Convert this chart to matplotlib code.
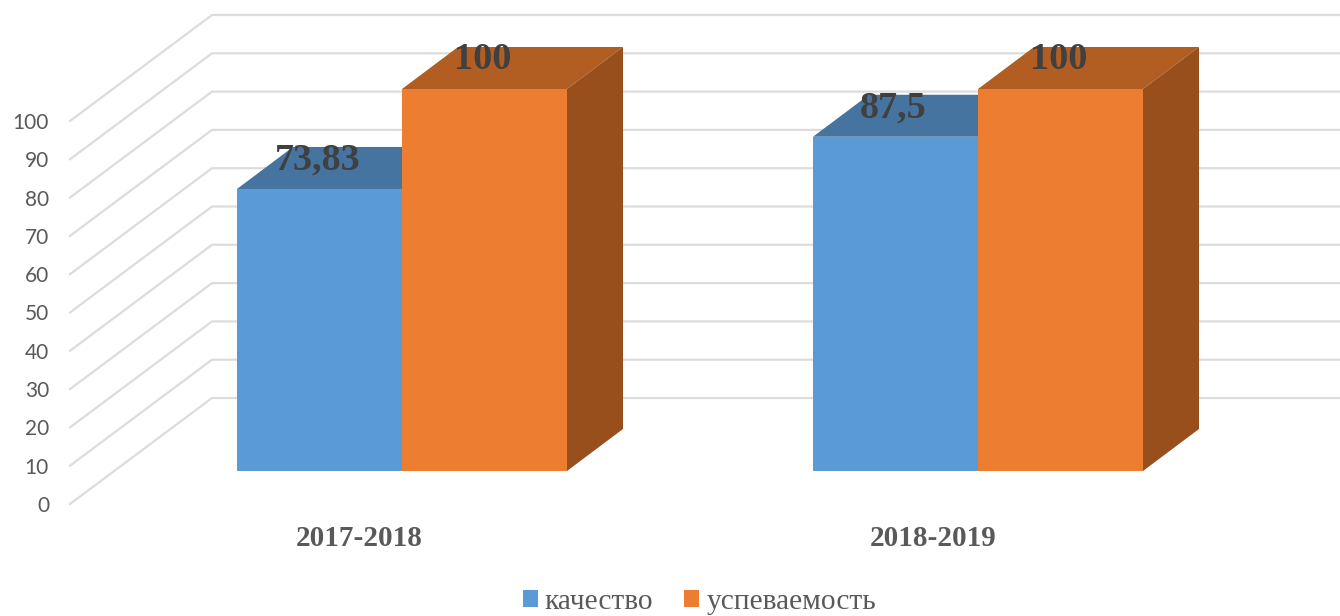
import matplotlib
matplotlib.use("Agg")
import matplotlib.pyplot as plt
from matplotlib.patches import Polygon

categories = ["2017-2018", "2018-2019"]
series_names = ["качество", "успеваемость"]
kachestvo = [73.83, 87.5]
uspevaemost = [100, 100]
value_labels = [["73,83", "87,5"], ["100", "100"]]
y_ticks = list(range(0, 101, 10))

front_colors = ["#5B9BD5", "#ED7D31"]
top_colors = ["#4674A0", "#B25E22"]
side_colors = ["#44749F", "#984F1B"]
GRID = "#DCDCDC"
TICK = "#595959"

W, H = 1340, 616
PX_Y = 3.82          # pixels per value unit
BASE_PX = 471        # baseline pixel of the front plane
PX_X = 576           # pixels per category step
ORIGIN_PX = 402      # pixel of category 0
BAR_W = 165 / PX_X
DEPTH_X = 56 / PX_X
DEPTH_Y = 42 / PX_Y

fig = plt.figure(figsize=(W / 100, H / 100), dpi=100, facecolor="white")
ax = fig.add_axes([0, 0, 1, 1])
ax.set_xlim((0 - ORIGIN_PX) / PX_X, (W - ORIGIN_PX) / PX_X)
ax.set_ylim((BASE_PX - H) / PX_Y, BASE_PX / PX_Y)
ax.axis("off")

# wall gridlines: front edge, back corner, then back wall to the right
wall_x = [(70 - ORIGIN_PX) / PX_X, (212 - ORIGIN_PX) / PX_X, (W - ORIGIN_PX) / PX_X]
front_off = (BASE_PX - 504) / PX_Y
back_off = (BASE_PX - 398) / PX_Y
for v in y_ticks:
    yy = [v * 383 / 382 + front_off, v * 383 / 382 + back_off, v * 383 / 382 + back_off]
    ax.plot(wall_x, yy, color=GRID, lw=1.6, zorder=1, solid_joinstyle="miter")
    ax.text((49 - ORIGIN_PX) / PX_X, v * 383 / 382 + front_off - 2 / PX_Y, str(v), ha="right", va="center",
            family="Lato", fontsize=15, color=TICK, zorder=5)

handles = []
for s, values in enumerate([kachestvo, uspevaemost]):
    for i, v in enumerate(values):
        x0 = i - BAR_W + s * BAR_W
        x1 = x0 + BAR_W
        ax.add_patch(Polygon([(x0, v), (x1, v), (x1 + DEPTH_X, v + DEPTH_Y), (x0 + DEPTH_X, v + DEPTH_Y)],
                             closed=True, fc=top_colors[s], ec="none", zorder=2 + s))
        ax.add_patch(Polygon([(x1, 0), (x1 + DEPTH_X, DEPTH_Y), (x1 + DEPTH_X, v + DEPTH_Y), (x1, v)],
                             closed=True, fc=side_colors[s], ec="none", zorder=2 + s))
    bars = ax.bar([i - BAR_W + s * BAR_W for i in range(len(values))], values, width=BAR_W,
                  align="edge", color=front_colors[s], zorder=2.5 + s, label=series_names[s])
    handles.append(bars)

# value labels
for s, values in enumerate([kachestvo, uspevaemost]):
    for i, v in enumerate(values):
        cx = i - BAR_W / 2 + s * BAR_W - 2 / PX_X
        ax.text(cx, v + 7.6, value_labels[s][i], ha="center", va="center",
                family="Liberation Serif", weight="bold", fontsize=27.5, color="#404040", zorder=6)

# category labels
cat_shift = [-43, -45]
for i, c in enumerate(categories):
    ax.text(i + cat_shift[i] / PX_X, (BASE_PX - 539) / PX_Y, c, ha="center", va="center",
            family="Liberation Serif", weight="bold", fontsize=21, color=TICK, zorder=6)

leg = ax.legend(handles=handles, loc="center", bbox_to_anchor=(699.5 / W, 1 - 602 / H),
                ncol=2, frameon=False, handlelength=0.51, handleheight=0.51, handletextpad=0.24,
                columnspacing=1.05, borderpad=0, labelspacing=0,
                prop={"family": "Liberation Serif", "size": 21.2})
for t in leg.get_texts():
    t.set_color(TICK)

fig.savefig("out.png", dpi=100, facecolor="white")
